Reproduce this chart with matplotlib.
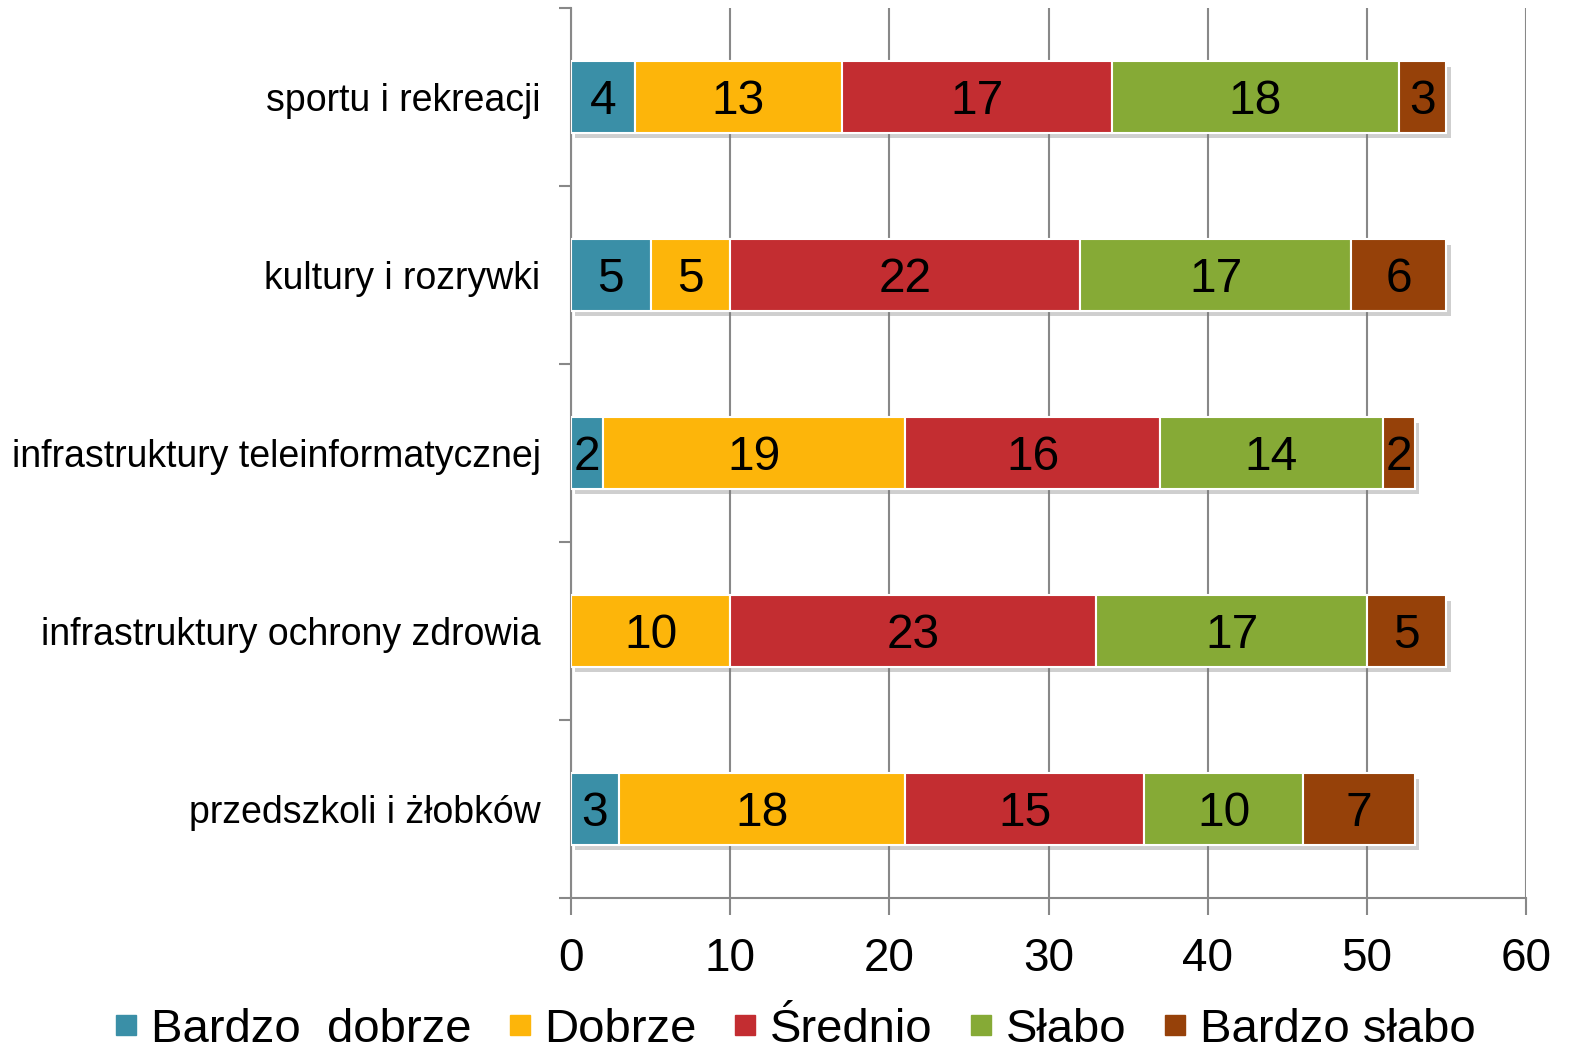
import matplotlib
matplotlib.use("Agg")
import matplotlib.pyplot as plt
import matplotlib.patheffects as pe
from matplotlib.lines import Line2D
import numpy as np

plt.rcParams["font.family"] = ["Liberation Sans", "DejaVu Sans"]

# data (top to bottom as in the picture)
categories = [
    "sportu i rekreacji",
    "kultury i rozrywki",
    "infrastruktury teleinformatycznej",
    "infrastruktury ochrony zdrowia",
    "przedszkoli i żłobków",
]
series_names = ["Bardzo  dobrze", "Dobrze", "Średnio", "Słabo", "Bardzo słabo"]
bardzo_dobrze = [4, 5, 2, 0, 3]
dobrze = [13, 5, 19, 10, 18]
srednio = [17, 22, 16, 23, 15]
slabo = [18, 17, 14, 17, 10]
bardzo_slabo = [3, 6, 2, 5, 7]
x_ticks = [0, 10, 20, 30, 40, 50, 60]

colors = ["#3A8FA7", "#FDB50A", "#C32D31", "#86AA36", "#964109"]
series = [bardzo_dobrze, dobrze, srednio, slabo, bardzo_slabo]

fig = plt.figure(figsize=(15.69, 10.54), dpi=100)
ax = fig.add_axes([0.364, 0.148, 0.6086, 0.8444])

y = np.arange(len(categories))
left = np.zeros(len(categories))
shadow = [pe.SimplePatchShadow(offset=(3, -4), shadow_rgbFace="#777777", alpha=0.35), pe.Normal()]
for vals, col in zip(series, colors):
    vals = np.array(vals, dtype=float)
    bars = ax.barh(y, vals, left=left, height=0.4, color=col,
                   edgecolor="white", linewidth=1.5, zorder=3)
    for b, v in zip(bars, vals):
        b.set_path_effects(shadow)
        if v > 0:
            ax.annotate(f"{int(v)}",
                        (b.get_x() + b.get_width() / 2, b.get_y() + b.get_height() / 2),
                        xytext=(0, -3), textcoords="offset points",
                        ha="center", va="center", fontsize=34.5,
                        color="black", zorder=4)
    left += vals

ax.set_xlim(0, 60)
ax.set_ylim(len(categories) - 0.5, -0.5)
ax.set_xticks(x_ticks)
ax.set_xticklabels([str(t) for t in x_ticks], fontsize=33)
ax.set_yticks(y)
ax.set_yticklabels(categories, fontsize=27)
ax.set_yticks(np.arange(len(categories) + 1) - 0.5, minor=True)

ax.tick_params(axis="y", which="major", length=0, pad=22)
ax.tick_params(axis="y", which="minor", length=9, width=1.5, color="#888888", direction="out")
ax.tick_params(axis="x", length=12, width=1.5, color="#888888", direction="out", pad=16)

ax.xaxis.grid(True, color="#888888", linewidth=1.5, zorder=0)
ax.set_axisbelow(True)
for s in ["top", "right"]:
    ax.spines[s].set_visible(False)
for s in ["left", "bottom"]:
    ax.spines[s].set_color("#888888")
    ax.spines[s].set_linewidth(1.5)

handles = [Line2D([], [], marker="s", linestyle="none", markersize=14.5,
                  markerfacecolor=c, markeredgecolor=c) for c in colors]
fig.legend(handles, series_names, loc="lower center", bbox_to_anchor=(0.507, 0.0),
           ncol=5, frameon=False, fontsize=34, handlelength=0.45,
           handletextpad=0.3, columnspacing=0.8, borderaxespad=0, borderpad=0.05)

fig.savefig("out.png", dpi=100)
